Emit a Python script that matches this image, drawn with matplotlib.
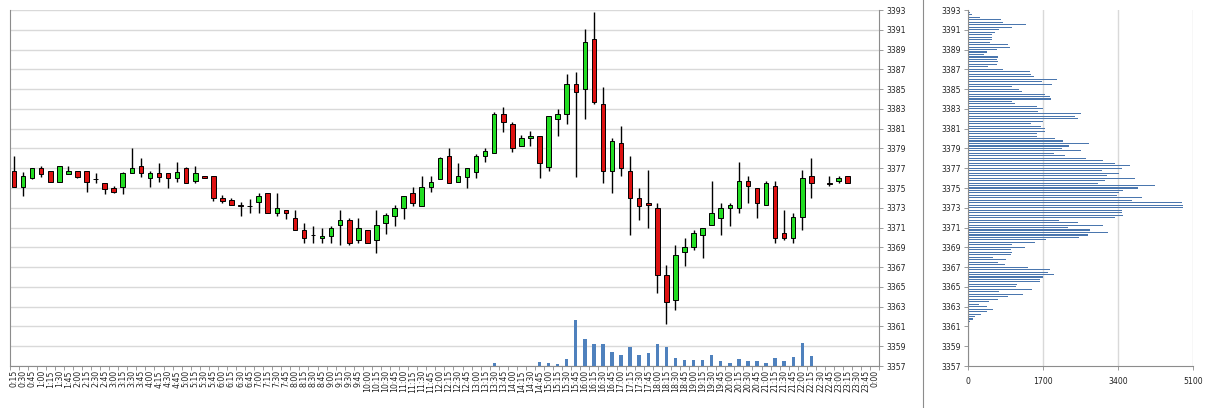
import numpy as np
import matplotlib
matplotlib.use("Agg")
import matplotlib.pyplot as plt
from matplotlib.lines import Line2D

# ---------------- data ----------------
times = [f"{(m // 60) % 24}:{m % 60:02d}" for m in range(15, 24 * 60 + 15, 15)]

nan = np.nan
opens = [3376.71, 3375.13, 3375.97, 3376.98, 3376.71, 3375.63, 3376.44, 3376.71, 3376.71, 3375.90,
         3375.46, 3374.96, 3375.13, 3376.47, 3377.22, 3375.97, 3376.47, 3376.47, 3375.97, 3376.98,
         3375.73, 3376.17, 3376.20, 3373.95, 3373.75, 3373.24, 3373.22, 3373.61, 3374.45, 3372.43,
         3372.74, 3371.93, 3370.75, 3370.20, 3369.91, 3370.18, 3371.26, 3371.76, 3369.74, 3370.75,
         3369.74, 3371.42, 3372.20, 3372.94, 3374.45, 3373.21, 3375.13, 3375.94, 3378.23, 3375.63,
         3376.14, 3376.64, 3378.23, 3378.52, 3382.46, 3381.45, 3379.20, 3380.04, 3380.27, 3377.17,
         3381.96, 3382.46, 3385.49, 3384.99, 3390.04, 3383.50, 3376.67, 3379.55, 3376.75, 3373.99,
         3373.50, 3372.98, 3366.18, 3363.65, 3368.50, 3369.04, 3370.25, 3371.23, 3371.94, 3372.98,
         3372.98, 3375.74, 3375.00, 3373.28, 3375.24, 3370.45, 3369.95, 3372.03, 3376.18, nan,
         3375.44, 3375.67, 3376.18, nan, nan, nan]
highs = [3378.26, 3376.64, 3377.05, 3377.22, 3376.75, 3377.25, 3377.22, 3376.71, 3376.71, 3376.47,
         3375.46, 3375.20, 3376.64, 3379.07, 3377.99, 3376.71, 3377.48, 3376.47, 3377.65, 3377.15,
         3377.22, 3376.17, 3376.20, 3374.29, 3373.95, 3373.61, 3373.88, 3374.45, 3374.45, 3374.45,
         3372.74, 3372.77, 3371.42, 3371.15, 3370.92, 3371.15, 3372.77, 3371.93, 3371.93, 3370.75,
         3372.77, 3372.43, 3373.28, 3374.22, 3375.13, 3376.20, 3376.20, 3378.16, 3379.07, 3377.55,
         3376.98, 3378.43, 3379.00, 3382.73, 3383.24, 3381.72, 3380.37, 3380.81, 3380.27, 3382.29,
         3382.97, 3386.54, 3386.70, 3391.05, 3392.76, 3385.26, 3380.04, 3381.22, 3378.20, 3375.00,
         3376.78, 3373.48, 3367.26, 3369.28, 3369.95, 3370.72, 3370.96, 3375.74, 3373.48, 3373.48,
         3377.59, 3376.18, 3375.00, 3375.67, 3375.67, 3372.81, 3372.47, 3376.78, 3378.03, nan,
         3376.18, 3376.25, 3376.18, nan, nan, nan]
lows = [3375.13, 3374.19, 3375.95, 3376.14, 3375.60, 3375.60, 3376.44, 3375.97, 3374.62, 3375.46,
        3374.39, 3374.45, 3374.39, 3376.47, 3376.14, 3375.13, 3375.63, 3374.96, 3375.63, 3375.46,
        3375.46, 3375.97, 3373.71, 3373.44, 3373.24, 3372.20, 3372.50, 3372.43, 3372.43, 3372.20,
        3371.90, 3370.75, 3369.41, 3369.41, 3369.41, 3369.41, 3369.20, 3369.20, 3369.41, 3369.41,
        3368.46, 3370.35, 3371.15, 3371.90, 3373.21, 3373.21, 3374.62, 3375.94, 3375.46, 3375.63,
        3374.96, 3375.97, 3377.65, 3378.52, 3380.71, 3378.69, 3379.20, 3379.20, 3376.00, 3376.67,
        3380.21, 3381.45, 3376.16, 3381.96, 3383.50, 3375.49, 3374.45, 3376.17, 3370.22, 3371.73,
        3370.93, 3364.39, 3361.20, 3362.71, 3367.15, 3368.70, 3367.93, 3371.23, 3370.22, 3371.20,
        3372.47, 3373.48, 3371.97, 3373.28, 3369.44, 3369.71, 3369.44, 3370.79, 3373.99, nan,
        3375.24, 3375.50, 3375.50, nan, nan, nan]
closes = [3375.13, 3376.20, 3377.01, 3376.44, 3375.63, 3377.22, 3376.68, 3376.14, 3375.63, 3375.90,
          3374.93, 3374.62, 3376.47, 3376.98, 3376.47, 3376.47, 3376.14, 3375.97, 3376.64, 3375.46,
          3376.47, 3375.97, 3373.95, 3373.71, 3373.24, 3373.20, 3373.20, 3374.19, 3372.43, 3372.94,
          3372.43, 3370.75, 3369.91, 3370.20, 3370.18, 3370.92, 3371.76, 3369.41, 3370.92, 3369.41,
          3371.22, 3372.27, 3372.94, 3374.22, 3373.44, 3375.13, 3375.63, 3377.99, 3375.53, 3376.20,
          3376.98, 3378.23, 3378.73, 3382.46, 3381.72, 3379.03, 3380.04, 3380.27, 3377.51, 3382.29,
          3382.46, 3385.49, 3384.75, 3389.73, 3383.74, 3376.67, 3379.75, 3377.02, 3373.99, 3373.22,
          3373.25, 3366.18, 3363.45, 3368.27, 3369.04, 3370.45, 3370.96, 3372.48, 3372.98, 3373.32,
          3375.74, 3375.17, 3373.48, 3375.50, 3369.95, 3369.95, 3372.04, 3376.01, 3375.50, nan,
          3375.44, 3376.01, 3375.50, nan, nan, nan]
volumes = [150, 120, 90, 80, 110, 130, 60, 70, 140, 50,
           90, 60, 180, 250, 160, 120, 140, 100, 130, 150,
           120, 40, 200, 90, 80, 70, 60, 110, 150, 120,
           60, 160, 170, 90, 80, 120, 200, 190, 160, 140,
           260, 180, 170, 220, 190, 240, 150, 280, 300, 200,
           210, 260, 220, 1700, 250, 280, 200, 220, 2550, 1900,
           1100, 4250, 29250, 17000, 13800, 13800, 8900, 6800, 12100, 6800,
           8100, 13800, 12100, 4900, 3600, 3600, 3600, 6800, 3000, 1700,
           4250, 3000, 3000, 1700, 4900, 3000, 5500, 14450, 6150, nan,
           150, 120, 180, nan, nan, nan]

# volume profile: price levels from 3392.75 down to 3361.50 (step 0.25)
profile_top = 3392.75
profile_step = 0.25
profile = [40, 75, 265, 730, 790, 1310, 980, 700, 600, 530,
           545, 530, 490, 890, 945, 660, 430, 360, 665, 660,
           680, 640, 450, 780, 1400, 1420, 1490, 2000, 1680, 1890,
           980, 1155, 1210, 1740, 1850, 1870, 1000, 1060, 1550, 1685,
           1590, 2545, 2420, 2495, 1685, 1410, 1650, 1740, 1740, 1550,
           1565, 1965, 2150, 2745, 2290, 2115, 2545, 1945, 2190, 2665,
           3060, 3325, 3665, 3475, 3020, 3420, 3135, 3780, 3100, 2945,
           4230, 3855, 3515, 3420, 3380, 3930, 3700, 4835, 4860, 4860,
           3475, 3475, 3515, 3325, 2060, 2495, 3060, 2270, 2760, 3170,
           2720, 2510, 1760, 1510, 1000, 1285, 960, 980, 960, 565,
           855, 680, 830, 1360, 1850, 1815, 1950, 1685, 1625, 1625,
           1095, 1070, 1435, 700, 1245, 910, 680, 475, 250, 415,
           565, 415, 285, 150, 100, 40]

price_ticks = list(range(3357, 3394, 2))
profile_ticks = [0, 1700, 3400, 5100]

# ---------------- styling ----------------
GREEN = "#22DD22"
RED = "#DD1111"
VOLC = "#4F81BD"
PROFC = "#4A76AE"
GRID = "#D9D9D9"
SPINE = "#8C8C8C"
TXT = "#222222"
FS = 5.6

plt.rcParams["font.family"] = ["DejaVu Sans"]

W, H = 1211, 408
fig = plt.figure(figsize=(W / 100, H / 100), dpi=100)
fig.patch.set_facecolor("white")

bot = 42 / H
hgt = 356 / H

# ---------------- left: candles + volume ----------------
ax = fig.add_axes([9.5 / W, bot, 869.8 / W, hgt])
o = np.array(opens, float)
h = np.array(highs, float)
l = np.array(lows, float)
c = np.array(closes, float)
x = np.arange(len(times))
valid = ~np.isnan(o)

ax.vlines(x[valid], l[valid], h[valid], color="black", lw=1.0, zorder=2)
bottoms = np.minimum(o, c)[valid]
heights = np.maximum(np.abs(c - o)[valid], 0.03)
cols = [GREEN if cc > oo else RED for oo, cc in zip(o[valid], c[valid])]
ax.bar(x[valid], heights, bottom=bottoms, width=0.5, color=cols,
       edgecolor="black", linewidth=0.7, zorder=3)

axv = ax.twinx()
axv.bar(x, np.array(volumes, float), width=0.38, color=VOLC, zorder=2)
axv.set_ylim(0, 226000)
axv.set_yticks([])
axv.tick_params(left=False, right=False, labelleft=False, labelright=False)
for s in axv.spines.values():
    s.set_visible(False)

ax.set_xlim(-0.5, len(times) - 0.5)
ax.set_ylim(3357, 3393)
ax.set_yticks(price_ticks)
ax.yaxis.tick_right()
ax.tick_params(axis="y", left=False, labelleft=False, right=True, labelright=True)
ax.grid(axis="y", color=GRID, lw=1.0)
ax.set_axisbelow(True)
ax.set_xticks(x)
ax.set_xticklabels(times, rotation=90, fontsize=FS, color=TXT)
ax.set_xticks(np.arange(-0.5, len(times), 1.0), minor=True)
ax.tick_params(axis="x", which="major", length=0, pad=3)
ax.tick_params(axis="x", which="minor", length=3, color=SPINE, width=0.6)
ax.tick_params(axis="y", which="major", length=3, color=SPINE, width=0.6,
               labelsize=FS, labelcolor=TXT, pad=2)
for s in ["left", "bottom", "right"]:
    ax.spines[s].set_color(SPINE)
    ax.spines[s].set_linewidth(0.8)
ax.spines["top"].set_visible(False)

# ---------------- right: volume profile ----------------
axp = fig.add_axes([968.3 / W, bot, 225 / W, hgt])
prices = profile_top - profile_step * np.arange(len(profile))
axp.barh(prices, profile, height=0.11, color=PROFC, zorder=2)
axp.set_xlim(0, 5100)
axp.set_ylim(3357, 3393)
axp.set_yticks(price_ticks)
axp.set_xticks(profile_ticks)
axp.grid(axis="x", color=GRID, lw=1.0)
axp.set_axisbelow(True)
axp.tick_params(axis="both", length=3, color=SPINE, width=0.6,
                labelsize=FS, labelcolor=TXT, pad=2)
axp.tick_params(axis="x", pad=5)
for s in ["left", "bottom"]:
    axp.spines[s].set_color(SPINE)
    axp.spines[s].set_linewidth(0.8)
for s in ["top", "right"]:
    axp.spines[s].set_visible(False)

# separator between panels
fig.add_artist(Line2D([922.5 / W, 922.5 / W], [0, 1], color=SPINE, lw=0.8))

fig.savefig("out.png", dpi=100, facecolor="white")
